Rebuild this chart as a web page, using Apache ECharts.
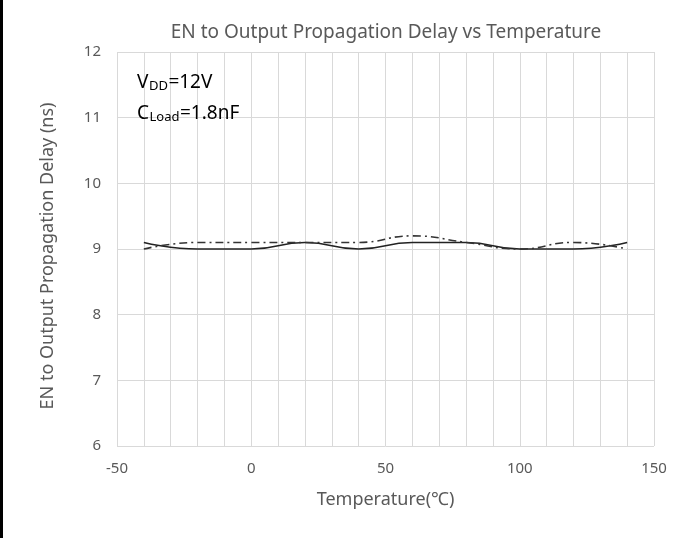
<!DOCTYPE html>
<html><head><meta charset="utf-8">
<script src="https://cdn.jsdelivr.net/npm/echarts@6/dist/echarts.min.js"></script>
<style>html,body{margin:0;padding:0;background:#fff}#c{width:699px;height:538px;border-left:3px solid #000;box-sizing:border-box}</style>
</head><body><div id="c"></div>
<script>
const temps = [-40, -20, 0, 20, 40, 60, 80, 100, 120, 140];
const solidDelay = [9.1, 9.0, 9.0, 9.1, 9.0, 9.1, 9.1, 9.0, 9.0, 9.1];
const dashDelay = [9.0, 9.1, 9.1, 9.1, 9.1, 9.2, 9.1, 9.0, 9.1, 9.0];
const xLabels = [-50, 0, 50, 100, 150];
const yTicks = [6, 7, 8, 9, 10, 11, 12];
const noteLines = [['V', 'DD', '=12V'], ['C', 'Load', '=1.8nF']];

const chart = echarts.init(document.getElementById('c'));
const font = 'Noto Sans';
const ctx = document.createElement('canvas').getContext('2d');
function tw(t, size) { ctx.font = size + 'px "Noto Sans"'; return ctx.measureText(t).width; }
const graphics = [];
noteLines.forEach((parts, i) => {
  const x0 = 134, y0 = 92 + i * 31;
  let x = x0;
  parts.forEach((p, j) => {
    const sz = j === 1 ? 13 : 19;
    graphics.push({type: 'text', x: x, y: y0 + (j === 1 ? 1 : 0), z: 100,
      style: {text: p, fontFamily: font, fontSize: sz, fill: '#000', stroke: null, lineWidth: 0,
        textBorderWidth: 0, verticalAlign: 'bottom', align: 'left'}});
    x += tw(p, sz) + 0.5;
  });
});
chart.setOption({
  animation: false,
  title: {text: 'EN to Output Propagation Delay vs Temperature', left: 378, top: 18, textAlign: 'center',
    textStyle: {fontFamily: font, fontSize: 19, fontWeight: 'normal', color: '#595959'}},
  grid: {left: 114, right: 45, top: 52, bottom: 92},
  xAxis: {type: 'value', min: -50, max: 150, interval: 10,
    name: 'Temperature(℃)', nameLocation: 'middle', nameGap: 45,
    nameTextStyle: {fontFamily: font, fontSize: 18, color: '#595959'},
    axisLine: {show: false}, axisTick: {show: false},
    axisLabel: {fontFamily: font, fontSize: 15, color: '#595959', margin: 15,
      formatter: v => xLabels.includes(v) ? String(v) : ''},
    splitLine: {show: true, lineStyle: {color: '#d9d9d9', width: 1}}},
  yAxis: {type: 'value', min: yTicks[0], max: yTicks[yTicks.length-1], interval: 1,
    name: 'EN to Output Propagation Delay (ns)', nameLocation: 'middle', nameGap: 60,
    nameTextStyle: {fontFamily: font, fontSize: 18, color: '#595959', padding: [0, 14, 0, 0]},
    axisLine: {show: false}, axisTick: {show: false},
    axisLabel: {fontFamily: font, fontSize: 15, color: '#595959', margin: 16},
    splitLine: {show: true, lineStyle: {color: '#d9d9d9', width: 1}}},
  series: [
    {type: 'line', data: temps.map((t, i) => [t, solidDelay[i]]), smooth: 0.5, showSymbol: false,
      lineStyle: {color: '#222', width: 1.6}},
    {type: 'line', data: temps.map((t, i) => [t, dashDelay[i]]), smooth: 0.5, showSymbol: false,
      lineStyle: {color: '#333', width: 1.6, type: [8, 4, 2, 4]}}
  ],
  graphic: graphics
});
</script></body></html>
